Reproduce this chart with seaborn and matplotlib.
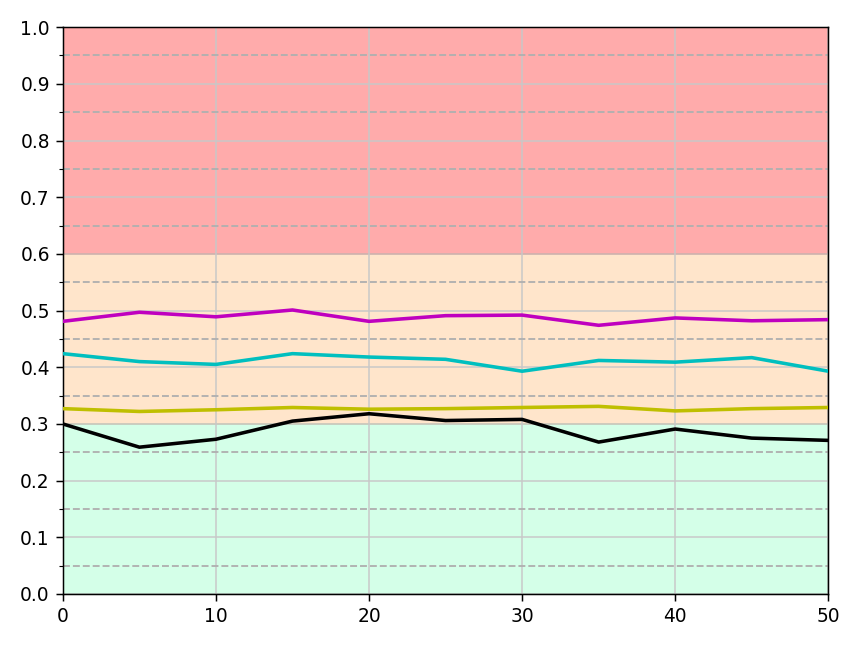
import numpy as np
import pandas as pd
import matplotlib
matplotlib.use('Agg')
import matplotlib.pyplot as plt
import seaborn as sns

# x positions and the four series
x_vals = [0, 5, 10, 15, 20, 25, 30, 35, 40, 45, 50]
magenta_vals = [0.481, 0.497, 0.489, 0.501, 0.481, 0.491, 0.492, 0.474, 0.487, 0.482, 0.484]
cyan_vals = [0.424, 0.410, 0.405, 0.424, 0.418, 0.414, 0.393, 0.412, 0.409, 0.417, 0.393]
yellow_vals = [0.327, 0.322, 0.325, 0.329, 0.326, 0.327, 0.329, 0.331, 0.323, 0.327, 0.329]
black_vals = [0.300, 0.259, 0.273, 0.305, 0.318, 0.306, 0.308, 0.268, 0.291, 0.275, 0.271]

series = {'m': magenta_vals, 'c': cyan_vals, 'y': yellow_vals, 'k': black_vals}

# zone limits
zone_edges = [0.0, 0.3, 0.6, 1.0]
zone_colors = ['#2bff8f', '#ff9a30', '#ff0000']
zone_alphas = [0.2, 0.25, 0.33]

dpi = 134.5
fig, ax = plt.subplots(figsize=(861 / dpi, 646 / dpi), dpi=dpi)

for i in range(3):
    ax.axhspan(zone_edges[i], zone_edges[i + 1], color=zone_colors[i], alpha=zone_alphas[i], zorder=0)

for col, vals in series.items():
    df = pd.DataFrame({'x': x_vals, 'y': vals})
    sns.lineplot(data=df, x='x', y='y', color=col, linewidth=1.9, ax=ax, zorder=3)

ax.set_xlim(0, 50)
ax.set_ylim(0, 1.0)
ax.set_yticks(np.arange(0, 1.01, 0.1))
ax.set_yticks(np.arange(0.05, 1.0, 0.1), minor=True)
ax.grid(which='major', color='#c8c8c8', linestyle='-', linewidth=1.0, alpha=0.8, zorder=1)
ax.grid(which='minor', axis='y', color='#b0b0b0', linestyle='--', linewidth=1.0, zorder=1)
ax.set_axisbelow(True)
ax.set_xlabel('')
ax.set_ylabel('')

plt.subplots_adjust(left=0.073, right=0.962, top=0.958, bottom=0.0805)
plt.savefig('out.png', dpi=dpi)
